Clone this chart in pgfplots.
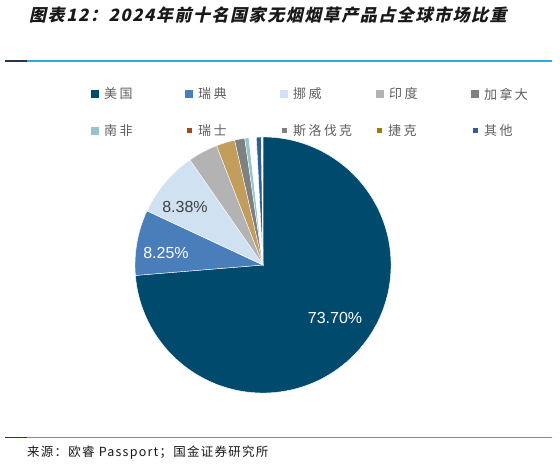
\documentclass[border=0pt]{standalone}
\usepackage{pgfplots}
\usepackage{pgfplotstable}
\pgfplotsset{compat=1.18}
\usepackage{fontspec}
\setmainfont{Liberation Sans}
\newfontfamily\cjk[LetterSpace=18]{Noto Sans CJK SC}
\newfontfamily\cjksrc[LetterSpace=10]{Noto Sans CJK SC}
\newfontfamily\cjktitle[FakeSlant=0.22,LetterSpace=9]{Noto Sans CJK SC}

\definecolor{cUS}{HTML}{004A6E}
\definecolor{cSE}{HTML}{4A7EBB}
\definecolor{cNO}{HTML}{D0E1F2}
\definecolor{cIN}{HTML}{B3B3B3}
\definecolor{cCA}{HTML}{808080}
\definecolor{cZA}{HTML}{93C5CB}
\definecolor{cCH}{HTML}{A5471A}
\definecolor{cSK}{HTML}{7F7F7F}
\definecolor{cCZ}{HTML}{9E7B0B}
\definecolor{cOT}{HTML}{2E6096}
\definecolor{cTan}{HTML}{C29D5C}
\definecolor{legtext}{HTML}{5E5E5E}
\definecolor{rule}{HTML}{2AAAE2}
\definecolor{ruledark}{HTML}{2B3645}

% shares in percent, clockwise from 12 o'clock
\pgfplotstableread{
share color
73.70 cUS
8.25  cSE
8.38  cNO
3.76  cIN
2.35  cTan
1.28  cCA
0.53  cZA
0.92  white
0.63  cOT
0.20  white
}\piedata

\begin{document}
\begin{tikzpicture}[x=1bp,y=1bp]
\useasboundingbox (0,0) rectangle (560,466);
\begin{axis}[
    at={(0,0)}, anchor=south west,
    scale only axis, width=560bp, height=466bp,
    xmin=0, xmax=560, ymin=0, ymax=466,
    hide axis, clip=false,
]
\def\startang{90}
\pgfplotsforeachungrouped \i in {0,...,9}{%
  \pgfplotstablegetelem{\i}{share}\of\piedata \let\sh\pgfplotsretval
  \pgfplotstablegetelem{\i}{color}\of\piedata \let\col\pgfplotsretval
  \pgfmathsetmacro\endang{\startang-3.6*\sh}%
  \edef\cmd{\noexpand\fill[\col, draw=white, line width=0.4bp]
    (axis cs:263,201) -- ++(\startang:128bp)
    arc[start angle=\startang, end angle=\endang, radius=128bp] -- cycle;}%
  \cmd
  \global\let\startang\endang
}
\node[white, font=\fontsize{16bp}{18bp}\selectfont] at (axis cs:335,148) {73.70\%};
\node[white, font=\fontsize{16bp}{18bp}\selectfont] at (axis cs:166,213) {8.25\%};
\node[black!75, font=\fontsize{16bp}{18bp}\selectfont] at (axis cs:185,259) {8.38\%};
\end{axis}

% title and rules
\node[anchor=west, inner sep=0pt, text=black!90,
      font=\cjktitle\bfseries\fontsize{17bp}{20bp}\selectfont] at (29,451)
  {图表12：2024年前十名国家无烟烟草产品占全球市场比重};
\draw[line width=1.5bp, color=ruledark] (5,405) -- (27,405);
\draw[line width=1.3bp, color=rule] (27,405) -- (552,405);
\draw[line width=1.5bp, color=ruledark] (5,28.5) -- (27,28.5);
\draw[line width=1.3bp, color=rule] (27,28.5) -- (552,28.5);
\node[anchor=west, inner sep=0pt, text=black!90,
      font=\cjksrc\fontsize{12.5bp}{15bp}\selectfont] at (27,13)
  {来源：欧睿 Passport；国金证券研究所};

% legend
\foreach \x/\c/\t in {91/cUS/美国, 185/cSE/瑞典, 280/cNO/挪威, 376/cIN/印度, 471/cCA/加拿大}{
  \fill[\c] (\x,368) rectangle ++(8,8);
  \node[anchor=west, inner sep=0pt, text=legtext,
        font=\cjk\fontsize{13bp}{15bp}\selectfont] at (\x+13,372) {\t};
}
\fill[cZA] (91,331) rectangle ++(8,8);
\node[anchor=west, inner sep=0pt, text=legtext,
      font=\cjk\fontsize{13bp}{15bp}\selectfont] at (104,335) {南非};
\foreach \x/\c/\t in {187/cCH/瑞士, 282/cSK/斯洛伐克, 377/cCZ/捷克, 473/cOT/其他}{
  \fill[\c] (\x,332.5) rectangle ++(5,5);
  \node[anchor=west, inner sep=0pt, text=legtext,
        font=\cjk\fontsize{13bp}{15bp}\selectfont] at (\x+11,335) {\t};
}
\end{tikzpicture}
\end{document}
